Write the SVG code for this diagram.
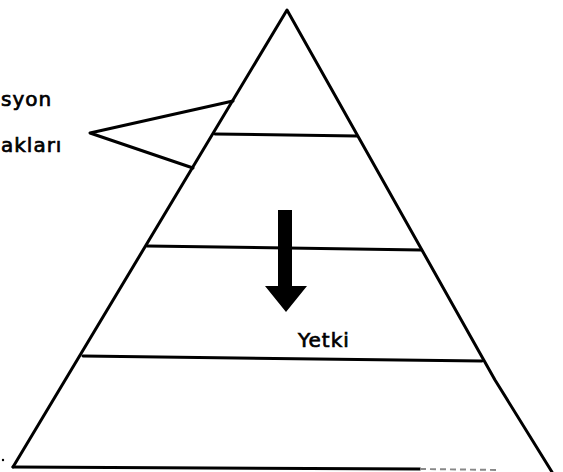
<svg xmlns="http://www.w3.org/2000/svg" width="563" height="472" viewBox="0 0 563 472">
<style>
.ln{stroke:#000;stroke-width:3;fill:none;stroke-linecap:round;stroke-linejoin:round}
.tx{font-family:"DejaVu Sans",sans-serif;font-size:20px;fill:#000;stroke:#000;stroke-width:0.7;letter-spacing:1px}
</style>
<rect width="563" height="472" fill="#fff"/>
<g id="pyramid">
<polyline class="ln" points="13,467 287,10 495,380 552,472"/>
<line class="ln" x1="13" y1="467" x2="420" y2="469"/>
<line x1="420" y1="469" x2="500" y2="470" stroke="#888" stroke-width="2" stroke-dasharray="6 4"/>
</g>
<g id="level1"><line class="ln" x1="215" y1="134" x2="357" y2="136"/></g>
<g id="level2"><line class="ln" x1="147" y1="246" x2="421" y2="250"/></g>
<g id="level3"><line class="ln" x1="83" y1="356" x2="482" y2="361"/></g>
<g id="connectors">
<polyline class="ln" points="233,101 90,133 193,168"/>
</g>
<g id="arrow">
<path d="M278,210 L292,210 L292,286 L307,286 L286,312 L265,286 L278,286 Z" fill="#000"/>
</g>
<g id="label-org">
<text class="tx" x="1" y="106">syon</text>
<text class="tx" x="1" y="152">akları</text>
</g>
<g id="label-yetki">
<text class="tx" x="298" y="347">Yetki</text>
</g>
<circle cx="3" cy="460" r="1.2" fill="#000"/>
</svg>
